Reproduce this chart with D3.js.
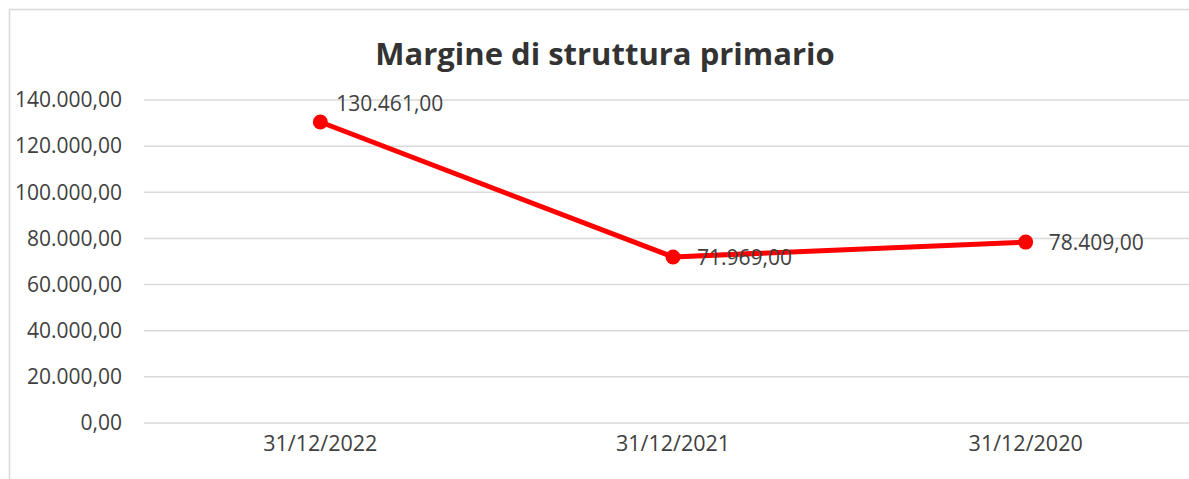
<!DOCTYPE html>
<html>
<head>
<meta charset="utf-8">
<script src="https://cdn.jsdelivr.net/npm/d3@7"></script>
<style>
  body { margin: 0; background: #fff; }
  svg { display: block; font-family: "Open Sans", sans-serif; }
</style>
</head>
<body>
<div id="grafico"></div>
<script>
// dati
const categorie = ["31/12/2022", "31/12/2021", "31/12/2020"];
const valori = [130461, 71969, 78409];
const yTicks = [0, 20000, 40000, 60000, 80000, 100000, 120000, 140000];

const W = 1189, H = 479;
const margin = {top: 100, right: -13, bottom: 56, left: 144};
const width = W - margin.left - margin.right;
const height = H - margin.top - margin.bottom;

const fmt = v => d3.format(",.2f")(v).replace(/,/g, "#").replace(/\./g, ",").replace(/#/g, ".");

const svg = d3.select("#grafico").append("svg")
  .attr("width", W).attr("height", H);

// cornice del grafico
svg.append("rect")
  .attr("x", 9.5).attr("y", 9.5)
  .attr("width", 1200).attr("height", 500)
  .attr("fill", "#fff").attr("stroke", "#d9d9d9").attr("stroke-width", 1.5);

svg.append("text")
  .attr("x", 605).attr("y", 65)
  .attr("text-anchor", "middle")
  .attr("font-size", "31px").attr("font-weight", "bold")
  .attr("fill", "#333")
  .text("Margine di struttura primario");

const g = svg.append("g").attr("transform", `translate(${margin.left},${margin.top})`);

const x = d3.scaleBand().domain(categorie).range([0, width]);
const y = d3.scaleLinear().domain([0, 140000]).range([height, 0]);

// griglia
g.append("g")
  .selectAll("line")
  .data(yTicks)
  .join("line")
    .attr("x1", 0).attr("x2", width)
    .attr("y1", d => y(d)).attr("y2", d => y(d))
    .attr("stroke", "#d9d9d9").attr("stroke-width", 1.5);

// asse y
const yAxis = g.append("g")
  .call(d3.axisLeft(y).tickValues(yTicks).tickFormat(fmt).tickSize(0).tickPadding(22));
yAxis.select(".domain").remove();
yAxis.selectAll("text").attr("font-size", "21px").attr("fill", "#404040")
  .attr("font-family", "Open Sans, sans-serif");

// asse x
const xAxis = g.append("g")
  .attr("transform", `translate(0,${height})`)
  .call(d3.axisBottom(x).tickSize(0).tickPadding(13));
xAxis.select(".domain").remove();
xAxis.selectAll("text").attr("font-size", "21.5px").attr("fill", "#404040")
  .attr("font-family", "Open Sans, sans-serif");

const punti = categorie.map((c, i) => ({c, v: valori[i]}));

g.append("path")
  .datum(punti)
  .attr("fill", "none")
  .attr("stroke", "#ff0000")
  .attr("stroke-width", 5)
  .attr("stroke-linejoin", "round")
  .attr("d", d3.line().x(d => x(d.c) + x.bandwidth() / 2).y(d => y(d.v)));

g.selectAll("circle")
  .data(punti)
  .join("circle")
    .attr("cx", d => x(d.c) + x.bandwidth() / 2)
    .attr("cy", d => y(d.v))
    .attr("r", 7.5)
    .attr("fill", "#ff0000");

// etichette dati (la prima sta sopra a destra)
const offs = [[16, -18], [24, 1], [23, 1]];
g.selectAll(".lbl")
  .data(punti)
  .join("text")
    .attr("class", "lbl")
    .attr("x", (d, i) => x(d.c) + x.bandwidth() / 2 + offs[i][0])
    .attr("y", (d, i) => y(d.v) + offs[i][1])
    .attr("dy", "0.35em")
    .attr("font-size", "21px").attr("fill", "#404040")
    .text(d => fmt(d.v));
</script>
</body>
</html>
